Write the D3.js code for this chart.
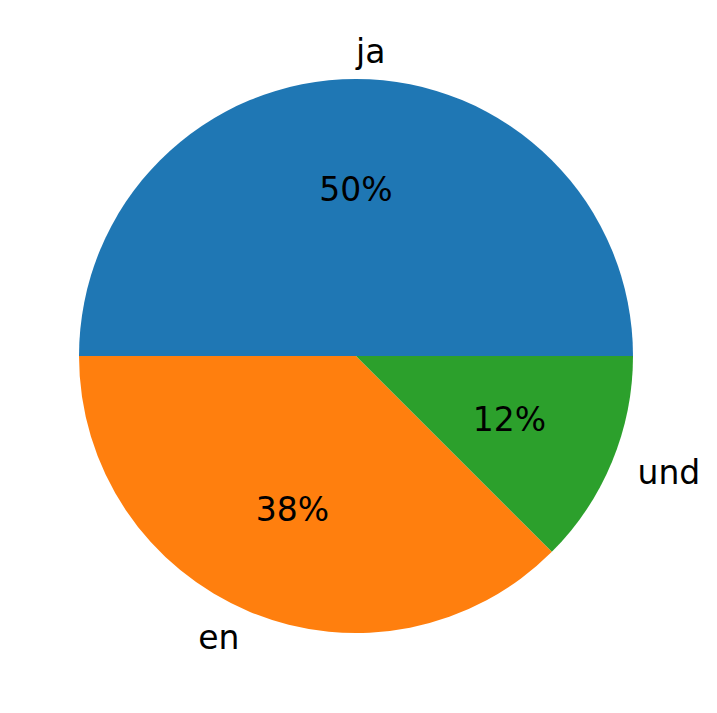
<!DOCTYPE html>
<html><head><meta charset="utf-8">
<script src="https://cdn.jsdelivr.net/npm/d3@7"></script>
<style>body{margin:0;background:#fff}</style></head>
<body><svg id="c" width="717" height="713"></svg>
<script>
const categories = ["ja", "en", "und"];
const values = [4, 3, 1];
const pctLabels = ["50%", "38%", "12%"];
const colors = ["#1f77b4", "#ff7f0e", "#2ca02c"];

const cx = 356, cy = 356, r = 277;
const svg = d3.select("#c");
const g = svg.append("g").attr("transform", `translate(${cx},${cy})`);
const total = d3.sum(values);
const arc = d3.arc().innerRadius(0).outerRadius(r);
let theta = 0;
values.forEach((v, i) => {
  const t1 = theta, t2 = theta + v / total * 2 * Math.PI;
  theta = t2;
  g.append("path")
    .attr("d", arc({startAngle: Math.PI/2 - t2, endAngle: Math.PI/2 - t1}))
    .attr("fill", colors[i]);
  const mid = (t1 + t2) / 2;
  const lx = 1.1 * r * Math.cos(mid), ly = -1.1 * r * Math.sin(mid);
  g.append("text").attr("x", lx).attr("y", ly)
    .attr("text-anchor", lx >= -1e-9 ? "start" : "end")
    .attr("dominant-baseline", "central")
    .style("font-family", "DejaVu Sans").style("font-size", "33px")
    .text(categories[i]);
  g.append("text").attr("x", 0.6 * r * Math.cos(mid)).attr("y", -0.6 * r * Math.sin(mid))
    .attr("text-anchor", "middle").attr("dominant-baseline", "central")
    .style("font-family", "DejaVu Sans").style("font-size", "33px")
    .text(pctLabels[i]);
});
</script></body></html>
